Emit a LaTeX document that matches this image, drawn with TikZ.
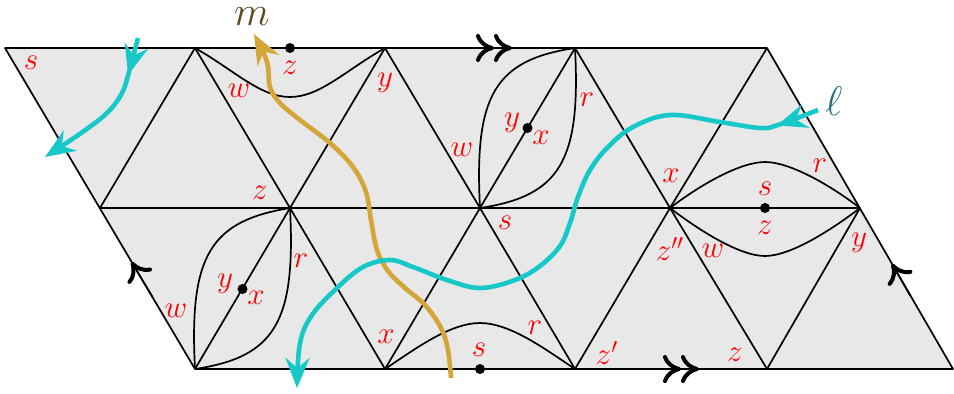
\documentclass[tikz,border=0pt]{standalone}
\usepackage{graphicx}
\usetikzlibrary{arrows.meta,decorations.markings}
\definecolor{bgc}{HTML}{E8E8E8}
\definecolor{goldc}{HTML}{D4A537}
\definecolor{cyc}{HTML}{17C8C8}
\definecolor{mcol}{HTML}{5B4A1C}
\definecolor{lcol}{HTML}{2A6F70}
\newcommand{\mylbl}[1]{\scalebox{1.08}{$#1$}}
\begin{document}
\begin{tikzpicture}[x=0.5pt,y=-0.5pt,
  lbl/.style={text=red, font=\Large, inner sep=0pt},
  biglbl/.style={font=\huge, inner sep=0pt},
  edge/.style={line width=0.85pt, line join=round},
  dotnode/.style={circle, fill=black, inner sep=0pt, minimum size=5pt},
  cyanline/.style={cyc, line width=2.3pt, -{Stealth[length=15pt,width=12pt,inset=5pt]}},
  goldline/.style={goldc, line width=2.3pt, -{Stealth[length=15pt,width=12pt,inset=5pt]}},
  midhead/.style={postaction={decorate, decoration={markings, mark=at position #1 with {\arrow{Stealth[length=15pt,width=12pt,inset=5pt]}}}}},
  singlemark/.style={line width=0.85pt, -{To[length=9pt,width=14pt,line width=2pt]}},
  doublemark/.style={line width=0.85pt, -{To[length=9pt,width=14pt,line width=2pt]To[length=9pt,width=14pt,line width=2pt]}}
]
\useasboundingbox (0,0) rectangle (954,393);
% vertices
\coordinate (T0) at (5,48);   \coordinate (T1) at (195,48);  \coordinate (T2) at (385,48);
\coordinate (T3) at (575,48); \coordinate (T4) at (767,48);
\coordinate (M0) at (100,208); \coordinate (M1) at (290,208); \coordinate (M2) at (480,208);
\coordinate (M3) at (670,208); \coordinate (M4) at (860,208);
\coordinate (B0) at (195,369); \coordinate (B1) at (385,369); \coordinate (B2) at (575,369);
\coordinate (B3) at (767,369); \coordinate (B4) at (953,369);
% region
\draw[edge, fill=bgc] (T0) -- (T4) -- (B4) -- (B0) -- cycle;
\draw[edge] (M0) -- (M4);
\draw[edge] (M0) -- (T1);
\draw[edge] (B0) -- (M1) -- (T2);
\draw[edge] (B1) -- (M2) -- (T3);
\draw[edge] (B2) -- (M3) -- (T4);
\draw[edge] (B3) -- (M4);
\draw[edge] (T1) -- (M1) -- (B1);
\draw[edge] (T2) -- (M2) -- (B2);
\draw[edge] (T3) -- (M3) -- (B3);
% curves
\draw[edge] (T1) .. controls (234,70) and (260,97) .. (290,97) .. controls (320,97) and (346,70) .. (T2);
\draw[edge] (M2) .. controls (474,95) and (495,60) .. (T3);
\draw[edge] (M2) .. controls (560,196) and (581,161) .. (T3);
\draw[edge] (B0) .. controls (189,256) and (210,221) .. (M1);
\draw[edge] (B0) .. controls (275,357) and (296,322) .. (M1);
\draw[edge] (M3) .. controls (700,185) and (740,162) .. (765,162) .. controls (790,162) and (830,185) .. (M4);
\draw[edge] (M3) .. controls (700,231) and (740,256) .. (765,256) .. controls (790,256) and (830,231) .. (M4);
\draw[edge] (B1) .. controls (415,349) and (450,323) .. (480,323) .. controls (510,323) and (545,349) .. (B2);
% dots
\node[dotnode] (d1) at (290,48) {};
\node[dotnode] (d2) at (527.5,128) {};
\node[dotnode] (d3) at (242.5,289) {};
\node[dotnode] (d4) at (765,208) {};
\node[dotnode] (d5) at (480,369) {};
% edge marks
\coordinate (ta) at (455,48);  \coordinate (tb) at (512,48);
\coordinate (ba) at (642,369); \coordinate (bb) at (699,369);
\coordinate (la) at (152.5,297) ; \coordinate (lb) at (131.5,262);
\coordinate (ra) at (910.5,296) ; \coordinate (rb) at (892,264);
\draw[doublemark] (ta) -- (tb);
\draw[doublemark] (ba) -- (bb);
\draw[singlemark] (la) -- (lb);
\draw[singlemark] (ra) -- (rb);
% labels
\node[lbl] (s1) at (31,63) {\mylbl{s}};
\node[lbl] (z1) at (290,68) {\mylbl{z}};
\node[lbl] (w1) at (239,91) {\mylbl{w}};
\node[lbl] (y1) at (385,83) {\mylbl{y}};
\node[lbl] (z2) at (260,193) {\mylbl{z}};
\node[lbl] (y2) at (512,123) {\mylbl{y}};
\node[lbl] (x2) at (541,138) {\mylbl{x}};
\node[lbl] (r2) at (587,100) {\mylbl{r}};
\node[lbl] (w2) at (462,150) {\mylbl{w}};
\node[lbl] (x3) at (671,176) {\mylbl{x}};
\node[lbl] (s3) at (765,189) {\mylbl{s}};
\node[lbl] (r3) at (820,166) {\mylbl{r}};
\node[lbl] (z3) at (765,228) {\mylbl{z}};
\node[lbl] (z4) at (670,249) {\mylbl{z''}};
\node[lbl] (w3) at (713,251) {\mylbl{w}};
\node[lbl] (y3) at (859,243) {\mylbl{y}};
\node[lbl] (s4) at (505,223) {\mylbl{s}};
\node[lbl] (y4) at (225,284) {\mylbl{y}};
\node[lbl] (x4) at (256,298) {\mylbl{x}};
\node[lbl] (r4) at (301,261) {\mylbl{r}};
\node[lbl] (w4) at (176,311) {\mylbl{w}};
\node[lbl] (x5) at (386,337) {\mylbl{x}};
\node[lbl] (s5) at (479,350) {\mylbl{s}};
\node[lbl] (r5) at (535,328) {\mylbl{r}};
\node[lbl] (z5) at (607,353) {\mylbl{z'}};
\node[lbl] (z6) at (735,355) {\mylbl{z}};
\node[biglbl, text=mcol] (mlab) at (252,17) {$m$};
\node[biglbl, text=lcol] (llab) at (834,101) {$\ell$};
% gold curve m
\draw[goldline] plot[smooth, tension=0.6] coordinates {(451,378) (448,350) (441,328) (425,305) (405,288) (388,271) (377,250) (371,220) (366,192) (353,167) (330,143) (300,120) (280,103) (270,87) (267,62) (254,34)};
% cyan curve l
\draw[cyanline, midhead=22pt] plot[smooth, tension=0.6] coordinates {(818,110) (778,125) (760,128) (720,122) (670,115) (633,127) (608,147) (590,170) (578,197) (570,223) (560,246) (540,266) (515,280) (480,288) (447,280) (413,267) (390,260) (363,267) (337,288) (312,315) (300,343) (297,388)};
% cyan top-left curve
\draw[cyanline, midhead=19pt] plot[smooth, tension=0.6] coordinates {(138,38) (129,72) (122,93) (108,112) (84,131) (45,157)};
\end{tikzpicture}
\end{document}
